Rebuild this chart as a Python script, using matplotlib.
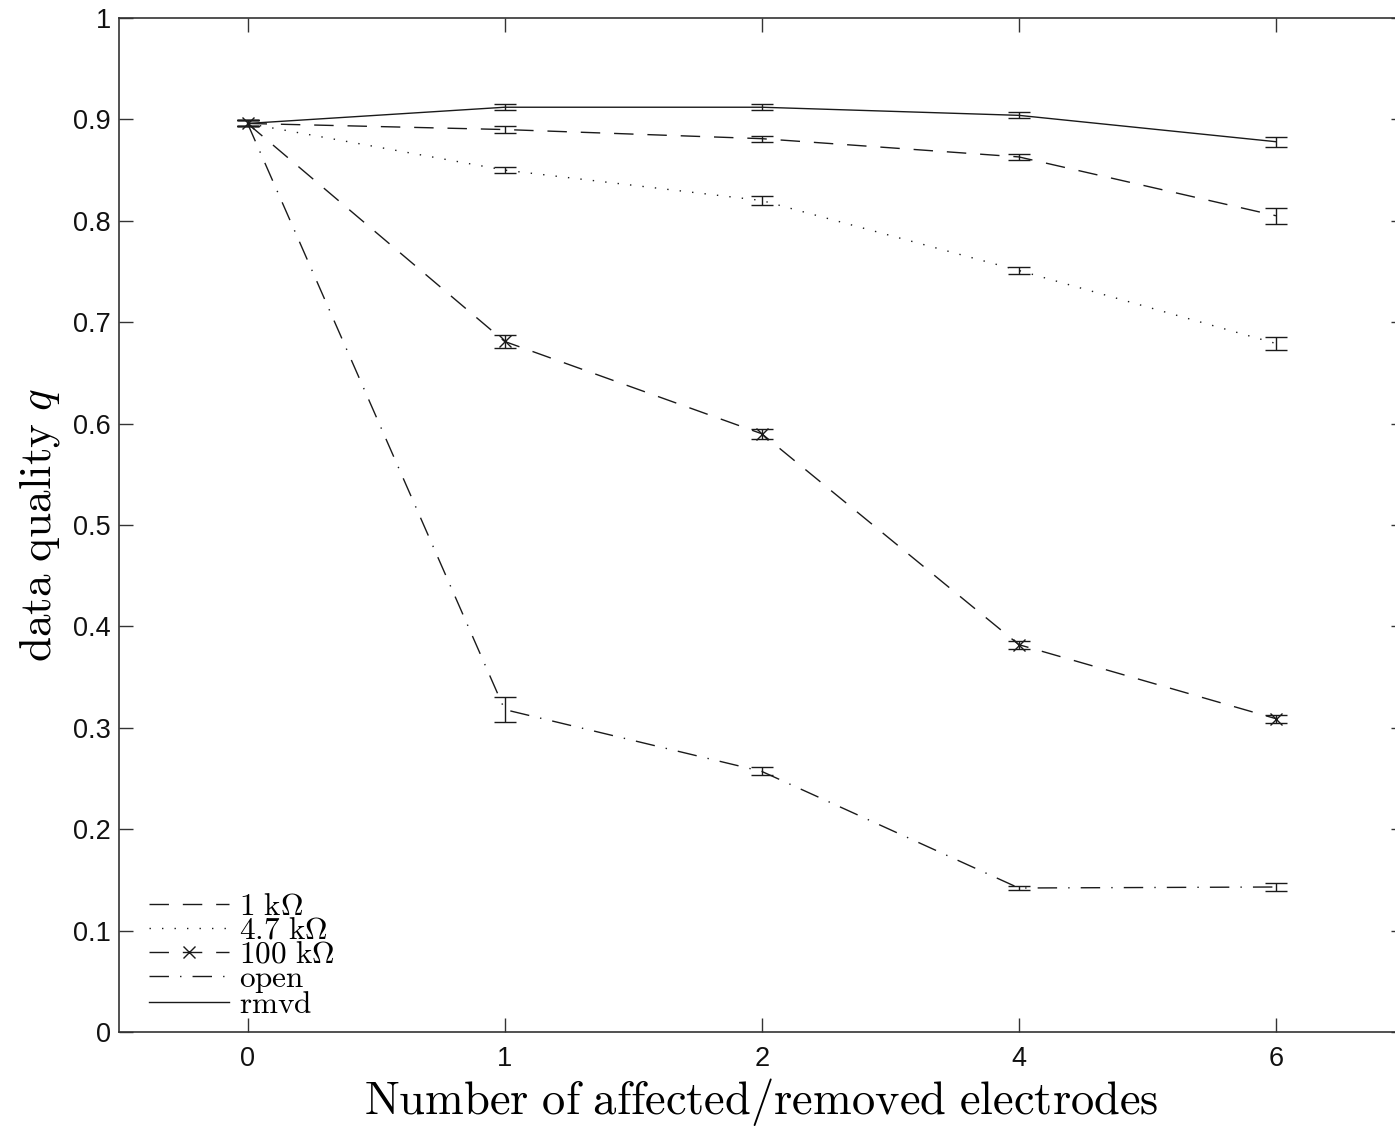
import matplotlib
matplotlib.use("Agg")
import matplotlib.pyplot as plt
import numpy as np

plt.rcParams['mathtext.fontset'] = 'cm'

x_labels = ["0", "1", "2", "4", "6"]
series_names = [r"$\mathrm{1\ k}\Omega$", r"$\mathrm{4.7\ k}\Omega$", r"$\mathrm{100\ k}\Omega$",
                r"$\mathrm{open}$", r"$\mathrm{rmvd}$"]
q_1k = [0.896, 0.890, 0.881, 0.863, 0.805]
e_1k = [0.003, 0.003, 0.003, 0.003, 0.008]
q_47k = [0.896, 0.850, 0.820, 0.751, 0.679]
e_47k = [0.003, 0.003, 0.004, 0.003, 0.006]
q_100k = [0.896, 0.681, 0.590, 0.382, 0.309]
e_100k = [0.003, 0.006, 0.005, 0.004, 0.004]
q_open = [0.896, 0.318, 0.257, 0.142, 0.143]
e_open = [0.003, 0.012, 0.004, 0.002, 0.004]
q_rmvd = [0.896, 0.912, 0.912, 0.904, 0.878]
e_rmvd = [0.003, 0.003, 0.003, 0.003, 0.005]

W, H = 1395, 1127
fig = plt.figure(figsize=(W/100, H/100), dpi=100)
ax = fig.add_axes([119/W, 1-1032/H, (1404.5-119)/W, (1032-18)/H])

xpos = np.arange(len(x_labels))
col = '#1a1a1a'
styles = [
    dict(dashes=(14, 10), marker=None),
    dict(dashes=(1, 8), marker=None),
    dict(dashes=(14, 10), marker='x'),
    dict(dashes=(14, 8, 1, 8), marker=None),
    dict(dashes=(None, None), marker=None),
]
data = [(q_1k, e_1k), (q_47k, e_47k), (q_100k, e_100k), (q_open, e_open), (q_rmvd, e_rmvd)]
handles = []
for (q, e), st, name in zip(data, styles, series_names):
    ax.errorbar(xpos, q, yerr=e, fmt='none', ecolor=col, elinewidth=1.0, capsize=8, capthick=1.0)
    kw = dict(color=col, lw=1.0, marker=st['marker'], markersize=9, markeredgewidth=1.0)
    if st['dashes'][0] is None:
        ln, = ax.plot(xpos, q, linestyle='-', **kw)
    else:
        ln, = ax.plot(xpos, q, linestyle='--', dashes=st['dashes'], **kw)
    handles.append(ln)

ax.set_xlim(-0.5, 4.5)
ax.set_ylim(0, 1)
ax.set_xticks(xpos)
ax.set_xticklabels(x_labels)
yt = np.round(np.arange(0, 1.01, 0.1), 1)
ax.set_yticks(yt)
ax.set_yticklabels(["0", "0.1", "0.2", "0.3", "0.4", "0.5", "0.6", "0.7", "0.8", "0.9", "1"])
ax.tick_params(direction='in', length=10, width=1, colors='#333333', labelcolor='#111111',
               labelsize=19.5, top=True, right=True, pad=6)
ax.tick_params(axis='x', pad=10)
for s in ax.spines.values():
    s.set_color('#333333')
    s.set_linewidth(1.2)
for lab in ax.get_xticklabels() + ax.get_yticklabels():
    lab.set_fontfamily('Liberation Sans')

ax.set_xlabel(r"$\mathrm{Number\ of\ affected/removed\ electrodes}$", fontsize=33.5, labelpad=3)
ax.set_ylabel(r"$\mathrm{data\ quality}\ q$", fontsize=32.5, labelpad=8)

leg = ax.legend(handles, series_names, loc='lower left', bbox_to_anchor=(0.023, 0.013), frameon=False,
                fontsize=22.5, handlelength=2.57, handletextpad=0.32, labelspacing=-0.16,
                borderaxespad=0.0, borderpad=0.0)

fig.savefig("out.png", dpi=100)
